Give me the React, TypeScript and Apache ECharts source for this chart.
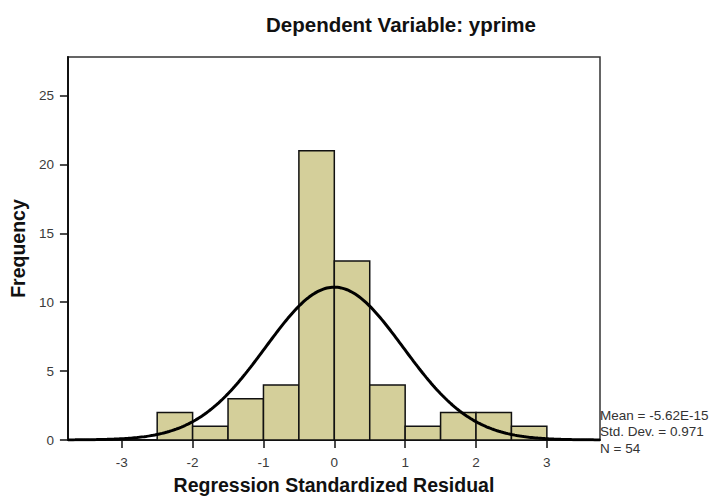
import React, { useEffect, useRef } from "react";
import * as echarts from "echarts";

const binStarts = [-2.5, -2.0, -1.5, -1.0, -0.5, 0.0, 0.5, 1.0, 1.5, 2.0, 2.5];
const binCounts = [2, 1, 3, 4, 21, 13, 4, 1, 2, 2, 1];
const binWidth = 0.5;
const xTicks = [-3, -2, -1, 0, 1, 2, 3];
const yTicks = [0, 5, 10, 15, 20, 25];
const statMean = -5.62e-15;
const statSd = 0.971;
const statN = 54;
const statLines = ["Mean = -5.62E-15", "Std. Dev. = 0.971", "N = 54"];

const X_MIN = -3.76;
const X_MAX = 3.75;
const Y_MAX = 27.8;

function normalCurve(): number[][] {
  const pts: number[][] = [];
  const steps = 300;
  for (let i = 0; i <= steps; i++) {
    const x = X_MIN + ((X_MAX - X_MIN) * i) / steps;
    const z = (x - statMean) / statSd;
    const y = (statN * binWidth * Math.exp(-0.5 * z * z)) / (statSd * Math.sqrt(2 * Math.PI));
    pts.push([x, y]);
  }
  return pts;
}

export default function App() {
  const ref = useRef<HTMLDivElement>(null);
  useEffect(() => {
    if (!ref.current) return;
    const chart = echarts.init(ref.current, null, { renderer: "svg" });
    const font = "'Liberation Sans', Arial, sans-serif";
    const barData = binStarts.map((s, i) => [s, s + binWidth, binCounts[i]]);
    chart.setOption({
      animation: false,
      backgroundColor: "#ffffff",
      textStyle: { fontFamily: font },
      title: {
        text: "Dependent Variable: yprime",
        left: 261,
        top: 9,
        textStyle: { fontFamily: font, fontSize: 20.5, fontWeight: "bold", color: "#111" },
      },
      grid: {
        left: 64,
        top: 57,
        right: 112,
        bottom: 57,
        show: true,
        borderColor: "#333",
        borderWidth: 1.5,
        backgroundColor: "#ffffff",
      },
      xAxis: {
        type: "value",
        min: X_MIN,
        max: X_MAX,
        name: "Regression Standardized Residual",
        nameLocation: "middle",
        nameGap: 35,
        nameTextStyle: { fontFamily: font, fontSize: 19.5, fontWeight: "bold", color: "#111" },
        axisLine: { show: true, onZero: false, lineStyle: { color: "#111", width: 2 } },
        axisTick: { show: true, customValues: xTicks, length: 8, lineStyle: { color: "#111", width: 1.5 } },
        axisLabel: { customValues: xTicks, color: "#3a3a3a", fontSize: 13.5, fontFamily: font, margin: 15 },
        splitLine: { show: false },
      },
      yAxis: {
        type: "value",
        min: 0,
        max: Y_MAX,
        name: "Frequency",
        nameLocation: "middle",
        nameGap: 31,
        nameRotate: 90,
        nameTextStyle: { fontFamily: font, fontSize: 19.5, fontWeight: "bold", color: "#111" },
        axisLine: { show: true, onZero: false, lineStyle: { color: "#111", width: 2 } },
        axisTick: { show: true, customValues: yTicks, length: 8, lineStyle: { color: "#111", width: 1.5 } },
        axisLabel: { customValues: yTicks, color: "#3a3a3a", fontSize: 13.5, fontFamily: font, margin: 14 },
        splitLine: { show: false },
      },
      series: [
        {
          type: "custom",
          data: barData,
          encode: { x: [0, 1], y: 2 },
          renderItem: (params: any, api: any) => {
            const p0 = api.coord([api.value(0), api.value(2)]);
            const p1 = api.coord([api.value(1), 0]);
            return {
              type: "rect",
              shape: { x: p0[0], y: p0[1], width: p1[0] - p0[0], height: p1[1] - p0[1] },
              style: { fill: "#d4cf9a", stroke: "#111", lineWidth: 1.5 },
            };
          },
          z: 2,
        },
        {
          type: "line",
          data: normalCurve(),
          showSymbol: false,
          smooth: false,
          lineStyle: { color: "#000", width: 3 },
          z: 5,
        },
      ],
      graphic: statLines.map((t, i) => ({
        type: "text",
        left: 600,
        top: 408 + i * 16.5,
        style: { text: t, fill: "#333", font: `13.5px ${font}` },
      })),
    });
    return () => chart.dispose();
  }, []);
  return (
    <div
      ref={ref}
      style={{ position: "fixed", left: 0, top: 0, width: 712, height: 500 }}
    />
  );
}
